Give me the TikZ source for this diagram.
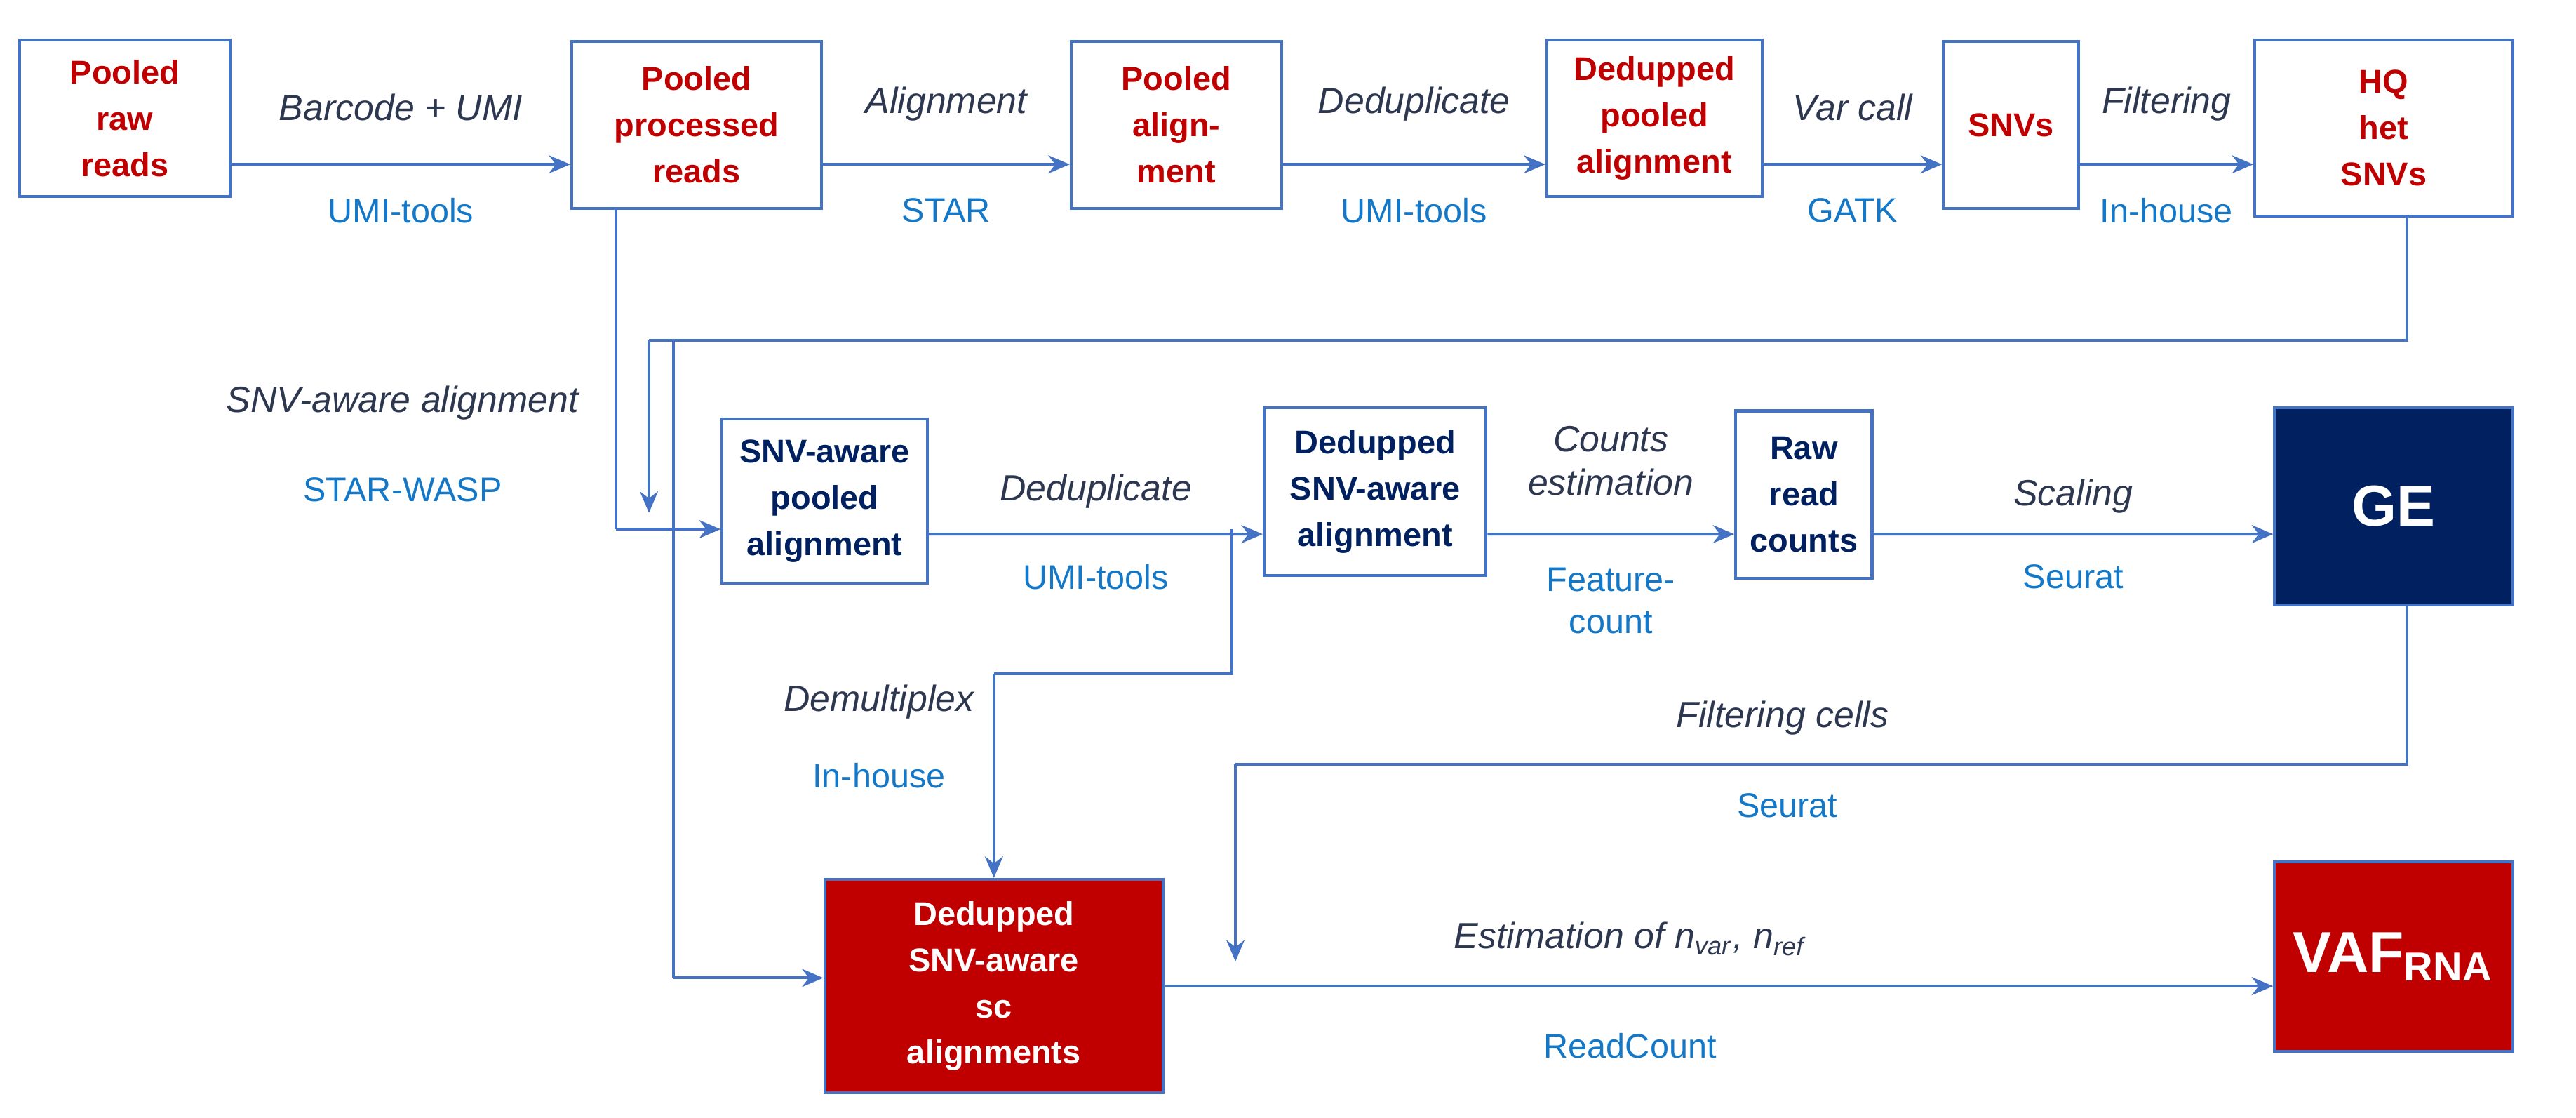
\documentclass[tikz,border=0pt]{standalone}
\usepackage{fontspec}
\setmainfont{Liberation Sans}
\usetikzlibrary{arrows.meta}
\definecolor{flowred}{RGB}{192,0,0}
\definecolor{flownavy}{RGB}{0,32,96}
\definecolor{flowline}{RGB}{68,114,196}
\definecolor{toolblue}{RGB}{20,120,200}
\definecolor{stepgray}{RGB}{45,55,80}
\begin{document}
\begin{tikzpicture}[x=0.1mm,y=-0.1mm,
    box/.style={draw=flowline, line width=0.5pt, align=center, inner sep=0pt,
        font=\fontsize{5.7}{8}\selectfont\bfseries},
    redbox/.style={box, text=flowred},
    navybox/.style={box, text=flownavy},
    fillbox/.style={box, text=white},
    flow/.style={draw=flowline, line width=0.5pt, -{Stealth[length=1.3mm,width=1.1mm]}},
    link/.style={draw=flowline, line width=0.5pt},
    steplabel/.style={text=stepgray, font=\fontsize{6.3}{7.5}\selectfont\itshape, align=center},
    tool/.style={text=toolblue, font=\fontsize{5.9}{7.3}\selectfont, align=center}]
    \useasboundingbox (0,0) rectangle (1568,680);

    % Top row
    \node[redbox, minimum width=1.28cm, minimum height=0.95cm] (raw) at (76,72) {Pooled\\raw\\reads};
    \node[redbox, minimum width=1.52cm, minimum height=1.02cm] (proc) at (424,76) {Pooled\\processed\\reads};
    \node[redbox, minimum width=1.28cm, minimum height=1.02cm] (palign) at (716,76) {Pooled\\align-\\ment};
    \node[redbox, minimum width=1.31cm, minimum height=0.95cm] (dpool) at (1007,72) {Dedupped\\pooled\\alignment};
    \node[redbox, minimum width=0.82cm, minimum height=1.02cm] (snvs) at (1224,76) {SNVs};
    \node[redbox, minimum width=1.57cm, minimum height=1.07cm] (hq) at (1451,78) {HQ\\het\\SNVs};

    \draw[flow] ([yshift=-0.28cm]raw.east) -- ([yshift=-0.24cm]proc.west)
        node[steplabel, midway, above=1.4mm] (l1) {Barcode + UMI}
        node[tool, midway, below=0.8mm] (t1) {UMI-tools};
    \draw[flow] ([yshift=-0.24cm]proc.east) -- ([yshift=-0.24cm]palign.west)
        node[steplabel, midway, above=1.4mm] (l2) {Alignment}
        node[tool, midway, below=0.8mm] (t2) {STAR};
    \draw[flow] ([yshift=-0.24cm]palign.east) -- ([yshift=-0.28cm]dpool.west)
        node[steplabel, midway, above=1.4mm] (l3) {Deduplicate}
        node[tool, midway, below=0.8mm] (t3) {UMI-tools};
    \draw[flow] ([yshift=-0.28cm]dpool.east) -- ([yshift=-0.24cm]snvs.west)
        node[steplabel, midway, above=1.4mm] (l4) {Var call}
        node[tool, midway, below=0.8mm] (t4) {GATK};
    \draw[flow] ([yshift=-0.24cm]snvs.east) -- ([yshift=-0.22cm]hq.west)
        node[steplabel, midway, above=1.4mm] (l5) {Filtering}
        node[tool, midway, below=0.8mm] (t5) {In-house};

    % Middle row
    \node[navybox, minimum width=1.25cm, minimum height=1.0cm] (sawp) at (502,305) {SNV-aware\\pooled\\alignment};
    \node[navybox, minimum width=1.35cm, minimum height=1.02cm] (dsa) at (837,299) {Dedupped\\SNV-aware\\alignment};
    \node[navybox, minimum width=0.83cm, minimum height=1.02cm] (rrc) at (1098,301) {Raw\\read\\counts};
    \node[fillbox, fill=flownavy, minimum width=1.45cm, minimum height=1.2cm,
        font=\fontsize{10}{12}\selectfont\bfseries] (ge) at (1457,308) {GE};

    \coordinate (procdown) at (375,322);
    \draw[link] (proc.south -| procdown) -- (procdown);
    \draw[flow] (procdown) -- (sawp.west |- procdown);
    \node[steplabel] (l6) at (245,245) {SNV-aware alignment};
    \node[tool] (t6) at (245,298) {STAR-WASP};

    \draw[flow] ([yshift=-0.2cm]sawp.east) -- ([yshift=-0.26cm]dsa.west)
        node[steplabel, midway, above=0.3mm] (l7) {Deduplicate}
        node[tool, midway, below=0.6mm] (t7) {UMI-tools};
    \draw[flow] ([yshift=-0.26cm]dsa.east) -- ([yshift=-0.24cm]rrc.west)
        node[steplabel, midway, above=1.1mm] (l8) {Counts\\estimation}
        node[tool, midway, below=0.8mm] (t8) {Feature-\\count};
    \draw[flow] ([yshift=-0.24cm]rrc.east) -- ([yshift=-0.17cm]ge.west)
        node[steplabel, midway, above=0mm] (l9) {Scaling}
        node[tool, midway, below=0.6mm] (t9) {Seurat};

    % Bottom row
    \node[fillbox, fill=flowred, minimum width=2.06cm, minimum height=1.3cm] (sc) at (605,600) {Dedupped\\SNV-aware\\sc\\alignments};
    \node[fillbox, fill=flowred, minimum width=1.45cm, minimum height=1.15cm,
        font=\fontsize{10}{12}\selectfont\bfseries] (vaf) at (1457,582) {VAF\textsubscript{RNA}};

    % SNV feedback
    \coordinate (hqbend) at (1465,207);
    \coordinate (fbleft) at (395,207);
    \coordinate (fbmid) at (410,207);
    \coordinate (fbarrow) at (395,312);
    \coordinate (scleft) at (410,595);
    \draw[link] (hq.south -| hqbend) -- (hqbend) -- (fbleft);
    \draw[flow] (fbleft) -- (fbarrow);
    \draw[link] (fbmid) -- (scleft);
    \draw[flow] (scleft) -- (sc.west |- scleft);

    % Demultiplex
    \coordinate (dmtop) at (750,322);
    \coordinate (dmright) at (750,410);
    \coordinate (dmleft) at (605,410);
    \draw[link] (dmtop) -- (dmright) -- (dmleft);
    \draw[flow] (dmleft) -- (sc.north);
    \node[steplabel] (l10) at (535,427) {Demultiplex};
    \node[tool] (t10) at (535,472) {In-house};

    % Filtering cells
    \coordinate (gedown) at (1465,465);
    \coordinate (fcleft) at (752,465);
    \coordinate (fcarrow) at (752,585);
    \draw[link] (ge.south -| gedown) -- (gedown) -- (fcleft);
    \draw[flow] (fcleft) -- (fcarrow);
    \node[steplabel] (l11) at (1085,437) {Filtering cells};
    \node[tool] (t11) at (1088,490) {Seurat};

    \draw[flow] (sc.east |- 0,600) -- (vaf.west |- 0,600)
        node[steplabel, pos=0.42, above=0.6mm] (l12) {Estimation of \textit{n}\textsubscript{\textit{var}}, \textit{n}\textsubscript{\textit{ref}}}
        node[tool, pos=0.42, below=1.6mm] (t12) {ReadCount};
\end{tikzpicture}
\end{document}
